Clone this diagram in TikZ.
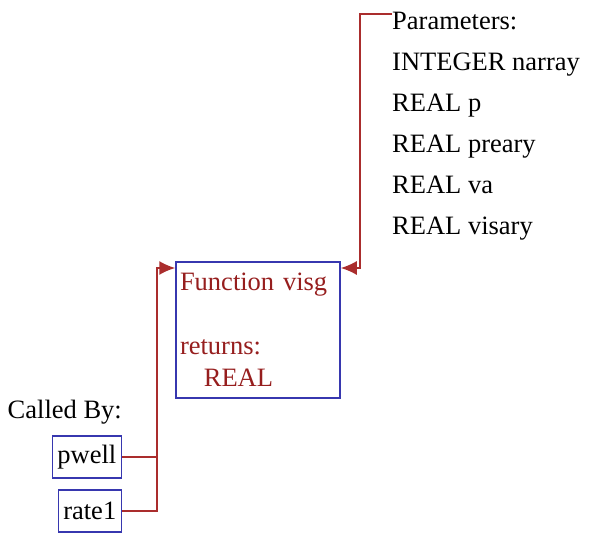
\documentclass[tikz,border=0pt]{standalone}
\usepackage{fontspec}
\setmainfont{Liberation Serif}
\usepackage{tikz}
\usetikzlibrary{positioning, arrows.meta}
\definecolor{calllink}{RGB}{170, 45, 45}
\definecolor{fntext}{RGB}{150, 30, 30}
\definecolor{boxblue}{RGB}{55, 55, 175}

\begin{document}
\begin{tikzpicture}[x=1pt, y=-1pt,
  every node/.style={font=\fontsize{26.5}{32}\selectfont},
  fnbox/.style={draw=boxblue, line width=1.5pt, rectangle, align=left},
  link/.style={calllink, line width=1.6pt},
  linkin/.style={link, -{Latex[length=16pt, width=14pt]}}]
\useasboundingbox (0,0) rectangle (595,534);
% the function itself
\node[fnbox, text=fntext, text width=156pt, inner xsep=4pt, minimum height=136pt] (visg) at (258,330)
  {Function visg\\[32pt]returns:\\\hspace*{0.9em}REAL};
% callers
\node[fnbox, inner sep=5pt, minimum height=42pt, anchor=east] (pwell) at (122,457) {pwell};
\node[fnbox, inner sep=5pt, minimum height=42pt, anchor=east] (rate1) at (122,511) {rate1};
\node[anchor=east, inner sep=0pt] (calledby) at (122,412) {Called By:};
% argument list
\node[anchor=north west, align=left, inner sep=0pt, font=\fontsize{26.5}{41}\selectfont] (params) at (392,12)
  {Parameters:\\INTEGER narray\\REAL p\\REAL preary\\REAL va\\REAL visary};
\coordinate (busR) at (360,268);
\coordinate (busL) at (157,268);
\draw[linkin] ([yshift=-2pt]params.north west) -| (busR) -- (busR -| visg.east);
\draw[linkin] (rate1.east) -| (busL) -- (busL -| visg.west);
\draw[link] (pwell.east) -- (pwell.east -| busL);
\end{tikzpicture}
\end{document}
